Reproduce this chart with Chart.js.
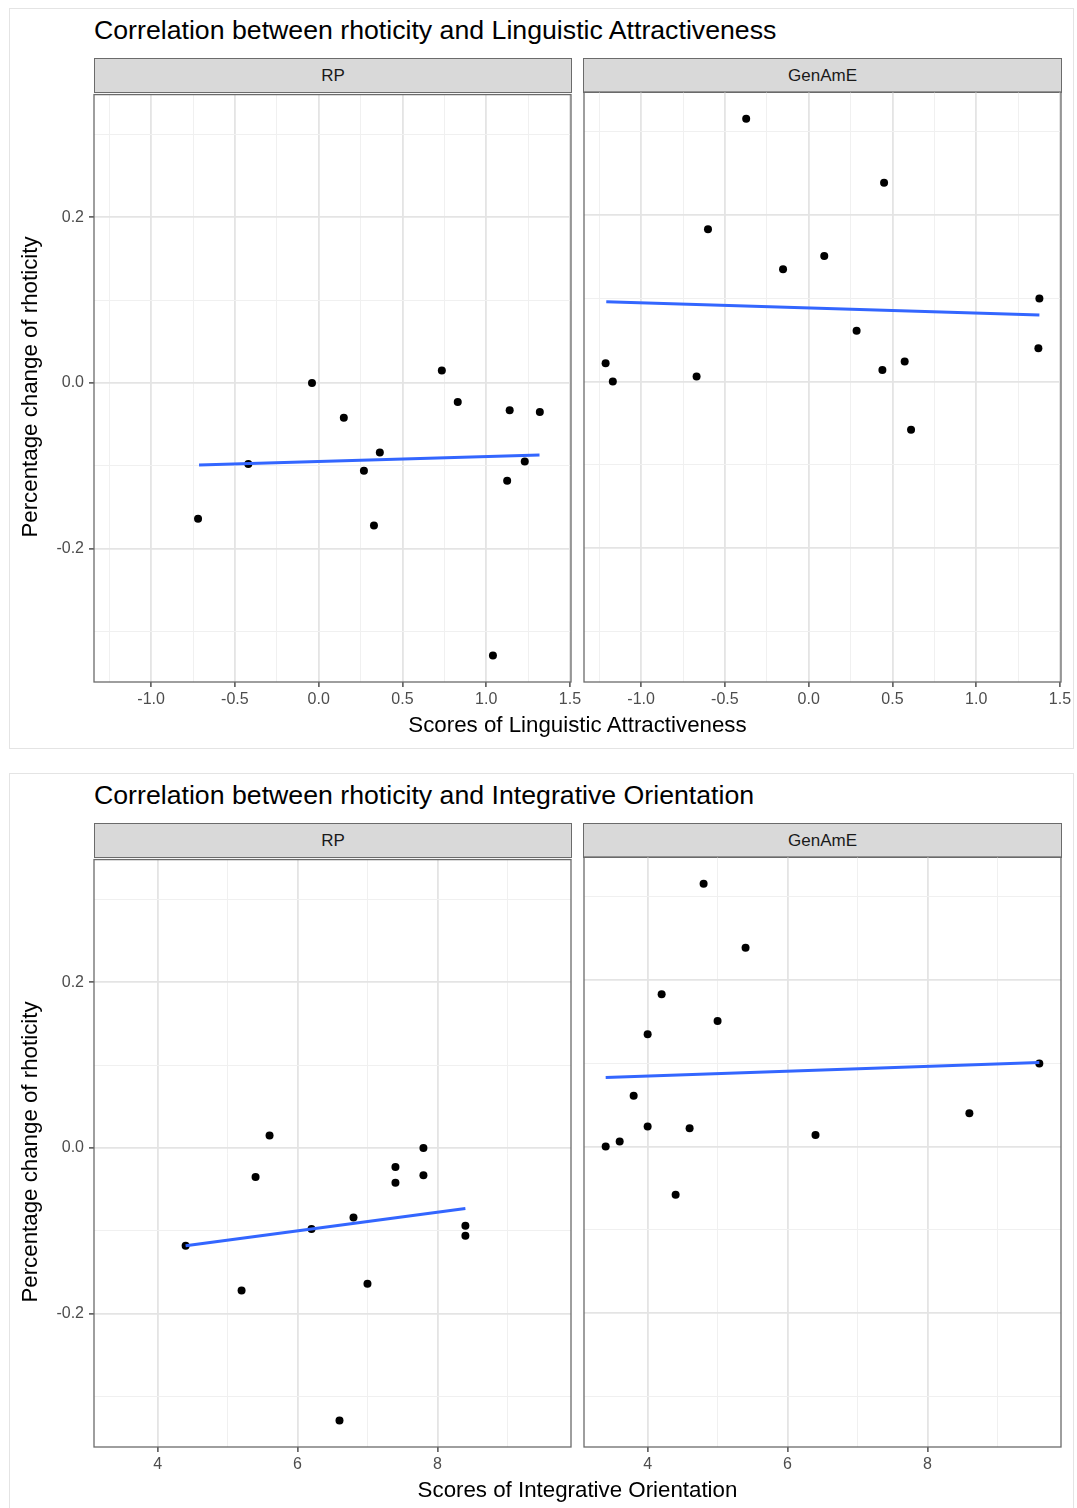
<!DOCTYPE html>
<html><head><meta charset="utf-8">
<script src="https://cdn.jsdelivr.net/npm/chart.js@4.4.0/dist/chart.umd.min.js"></script>
<style>
html,body{margin:0;padding:0;background:#fff;}
#root{position:relative;width:1077px;height:1508px;overflow:hidden;font-family:"Liberation Sans",Arial,Helvetica,sans-serif;background:#fff;}
.box{position:absolute;border:1px solid #e4e4e4;box-sizing:border-box;}
.title{position:absolute;font-size:26.7px;line-height:28px;color:#000;white-space:nowrap;}
.strip{position:absolute;background:#d9d9d9;border:1.3px solid #6b6b6b;box-sizing:border-box;font-size:17px;color:#1a1a1a;text-align:center;}
.xtitle{position:absolute;font-size:22.3px;line-height:24px;color:#000;white-space:nowrap;text-align:center;}
.ytitle{position:absolute;font-size:22.3px;line-height:26px;color:#000;white-space:nowrap;text-align:center;width:400px;height:26px;transform:rotate(-90deg);transform-origin:50% 50%;}
canvas{position:absolute;}
</style>
</head><body><div id="root"></div>
<script>
// ---------- DATA ----------
const facetNames = ['RP', 'GenAmE'];
const figTitles = ['Correlation between rhoticity and Linguistic Attractiveness', 'Correlation between rhoticity and Integrative Orientation'];
const xTitles = ['Scores of Linguistic Attractiveness', 'Scores of Integrative Orientation'];
const yTitle = 'Percentage change of rhoticity';

// Figure 1: Linguistic Attractiveness
const attrRP_x = [-0.72, -0.42, -0.04, 0.15, 0.27, 0.33, 0.365, 0.735, 0.83, 1.14, 1.125, 1.04, 1.23, 1.32];
const attrRP_y = [-0.164, -0.098, 0.000, -0.042, -0.106, -0.172, -0.084, 0.015, -0.023, -0.033, -0.118, -0.329, -0.095, -0.035];
const attrGen_x = [-0.373, -0.601, 0.450, -0.153, 0.093, 1.377, 0.286, -1.212, -1.169, -0.669, 0.440, 0.573, 1.371, 0.611];
const attrGen_y = [0.316, 0.183, 0.239, 0.135, 0.151, 0.100, 0.061, 0.022, 0.000, 0.006, 0.014, 0.024, 0.040, -0.058];
const attrRP_fitX = [-0.714, 1.318];
const attrRP_fitY = [-0.099, -0.087];
const attrGen_fitX = [-1.208, 1.377];
const attrGen_fitY = [0.096, 0.080];

// Figure 2: Integrative Orientation
const integRP_x = [4.4, 5.2, 5.4, 5.6, 6.2, 6.6, 6.8, 7.0, 7.4, 7.4, 7.8, 7.8, 8.4, 8.4];
const integRP_y = [-0.118, -0.172, -0.035, 0.015, -0.098, -0.329, -0.084, -0.164, -0.023, -0.042, 0.000, -0.033, -0.094, -0.106];
const integGen_x = [4.8, 5.4, 4.2, 5.0, 4.0, 9.6, 3.8, 4.0, 4.6, 3.6, 3.4, 6.4, 8.6, 4.4];
const integGen_y = [0.316, 0.239, 0.183, 0.151, 0.135, 0.100, 0.061, 0.024, 0.022, 0.006, 0.000, 0.014, 0.040, -0.058];
const integRP_fitX = [4.4, 8.4];
const integRP_fitY = [-0.118, -0.073];
const integGen_fitX = [3.4, 9.6];
const integGen_fitY = [0.083, 0.101];

// Axis ranges and ticks
const attrXRange = [-1.341, 1.506];
const integXRange = [3.09, 9.91];
const yRange = [-0.361, 0.348];
const attrXMajor = [-1.0, -0.5, 0, 0.5, 1.0, 1.5];
const attrXLabels = ['-1.0', '-0.5', '0.0', '0.5', '1.0', '1.5'];
const attrXMinor = [-1.25, -0.75, -0.25, 0.25, 0.75, 1.25];
const integXMajor = [4, 6, 8];
const integXLabels = ['4', '6', '8'];
const integXMinor = [5, 7, 9];
const yMajor = [-0.2, 0, 0.2];
const yLabels = ['-0.2', '0.0', '0.2'];
const yMinor = [-0.3, -0.1, 0.1, 0.3];

// ---------- LAYOUT ----------
const FONT = '"Liberation Sans", Arial, Helvetica, sans-serif';
const root = document.getElementById('root');
const figDY = [0, 765];
const panelL = [94, 584], panelR = [571, 1061];
const panelTop = 92, panelBot = 682;
const stripTop = 58;

function el(cls, css, text) {
  const d = document.createElement('div');
  d.className = cls;
  Object.assign(d.style, css);
  if (text !== undefined) d.textContent = text;
  root.appendChild(d);
  return d;
}

function pts(xs, ys) { return xs.map((x, i) => ({ x: x, y: ys[i] })); }
function tickList(major, labels, minor) {
  const t = major.map((v, i) => ({ value: v, isMajor: true, lbl: labels[i] }))
    .concat(minor.map(v => ({ value: v, isMajor: false, lbl: '' })));
  t.sort((a, b) => a.value - b.value);
  return t;
}

const panelBorder = {
  id: 'panelBorder',
  afterDraw(chart) {
    const a = chart.chartArea, c = chart.ctx;
    c.save();
    c.strokeStyle = '#6b6b6b';
    c.lineWidth = 1.3;
    c.strokeRect(a.left, a.top, a.right - a.left, a.bottom - a.top);
    c.restore();
  }
};

function gridOpts(drawTicks) {
  return {
    color: ctx => (ctx.tick && ctx.tick.isMajor) ? '#e4e4e4' : '#f0f0f0',
    lineWidth: ctx => (ctx.tick && ctx.tick.isMajor) ? 1.8 : 1.0,
    drawTicks: drawTicks,
    tickLength: 5,
    tickColor: ctx => (ctx.tick && ctx.tick.isMajor) ? '#333333' : 'rgba(0,0,0,0)',
    tickWidth: 1.3
  };
}

function makeFacet(fig, side, scatterX, scatterY, fitX, fitY, xRange, xTicks) {
  const dy = figDY[fig];
  const showY = side === 0;
  const yAxisW = showY ? 64 : 0;
  const padL = showY ? 0 : 14, padR = 14, padT = 12;
  const xAxisH = 40;
  const left = panelL[side] - yAxisW - padL;
  const width = panelR[side] + padR - left;
  const top = panelTop + dy - padT;
  const height = panelBot + dy + xAxisH - top;
  const cv = document.createElement('canvas');
  cv.width = width; cv.height = height;
  cv.style.left = left + 'px'; cv.style.top = top + 'px';
  cv.style.width = width + 'px'; cv.style.height = height + 'px';
  root.appendChild(cv);
  const yTicks = tickList(yMajor, yLabels, yMinor);
  new Chart(cv, {
    type: 'scatter',
    data: {
      datasets: [
        {
          type: 'line', data: pts(fitX, fitY), borderColor: '#3366FF', borderWidth: 3,
          pointRadius: 0, fill: false, showLine: true, order: 0
        },
        {
          type: 'scatter', data: pts(scatterX, scatterY), backgroundColor: '#000000',
          borderColor: '#000000', pointRadius: 4, borderWidth: 0, order: 1
        }
      ]
    },
    options: {
      responsive: false, animation: false, devicePixelRatio: 1,
      layout: { padding: { left: padL, right: padR, top: padT, bottom: 0 } },
      plugins: { legend: { display: false }, tooltip: { enabled: false }, title: { display: false } },
      scales: {
        x: {
          type: 'linear', position: 'bottom', min: xRange[0], max: xRange[1],
          afterBuildTicks: s => { s.ticks = xTicks.map(t => Object.assign({}, t)); },
          afterFit: s => { s.height = xAxisH; },
          ticks: {
            autoSkip: false, maxRotation: 0, padding: 3, color: '#4d4d4d',
            font: { family: FONT, size: 16 },
            callback: (v, i, ticks) => ticks[i].lbl
          },
          grid: gridOpts(true),
          border: { display: false }
        },
        y: {
          type: 'linear', position: 'left', min: yRange[0], max: yRange[1],
          afterBuildTicks: s => { s.ticks = yTicks.map(t => Object.assign({}, t)); },
          afterFit: s => { s.width = yAxisW; },
          ticks: {
            display: showY, autoSkip: false, padding: 5, color: '#4d4d4d',
            font: { family: FONT, size: 16 },
            callback: (v, i, ticks) => ticks[i].lbl
          },
          grid: gridOpts(showY),
          border: { display: false }
        }
      }
    },
    plugins: [panelBorder]
  });
}

// Build figures
const figData = [
  { rp: [attrRP_x, attrRP_y, attrRP_fitX, attrRP_fitY], gen: [attrGen_x, attrGen_y, attrGen_fitX, attrGen_fitY],
    xr: attrXRange, xt: tickList(attrXMajor, attrXLabels, attrXMinor) },
  { rp: [integRP_x, integRP_y, integRP_fitX, integRP_fitY], gen: [integGen_x, integGen_y, integGen_fitX, integGen_fitY],
    xr: integXRange, xt: tickList(integXMajor, integXLabels, integXMinor) }
];

figData.forEach((f, fi) => {
  const dy = figDY[fi];
  el('box', { left: '9px', top: (8 + dy) + 'px', width: '1065px', height: (fi === 0 ? 741 : 760) + 'px' });
  el('title', { left: '94px', top: (16 + dy) + 'px' }, figTitles[fi]);
  [0, 1].forEach(side => {
    el('strip', {
      left: (side === 0 ? 94 : 583) + 'px', top: (stripTop + dy) + 'px',
      width: (panelR[side] - (side === 0 ? 94 : 583) + 1) + 'px', height: '35px', lineHeight: '33px'
    }, facetNames[side]);
  });
  makeFacet(fi, 0, ...f.rp, f.xr, f.xt);
  makeFacet(fi, 1, ...f.gen, f.xr, f.xt);
  el('xtitle', { left: '94px', width: '967px', top: (713 + dy) + 'px' }, xTitles[fi]);
  el('ytitle', { left: (30 - 200) + 'px', top: (387 + dy - 13) + 'px' }, yTitle);
});
</script>
</body></html>
